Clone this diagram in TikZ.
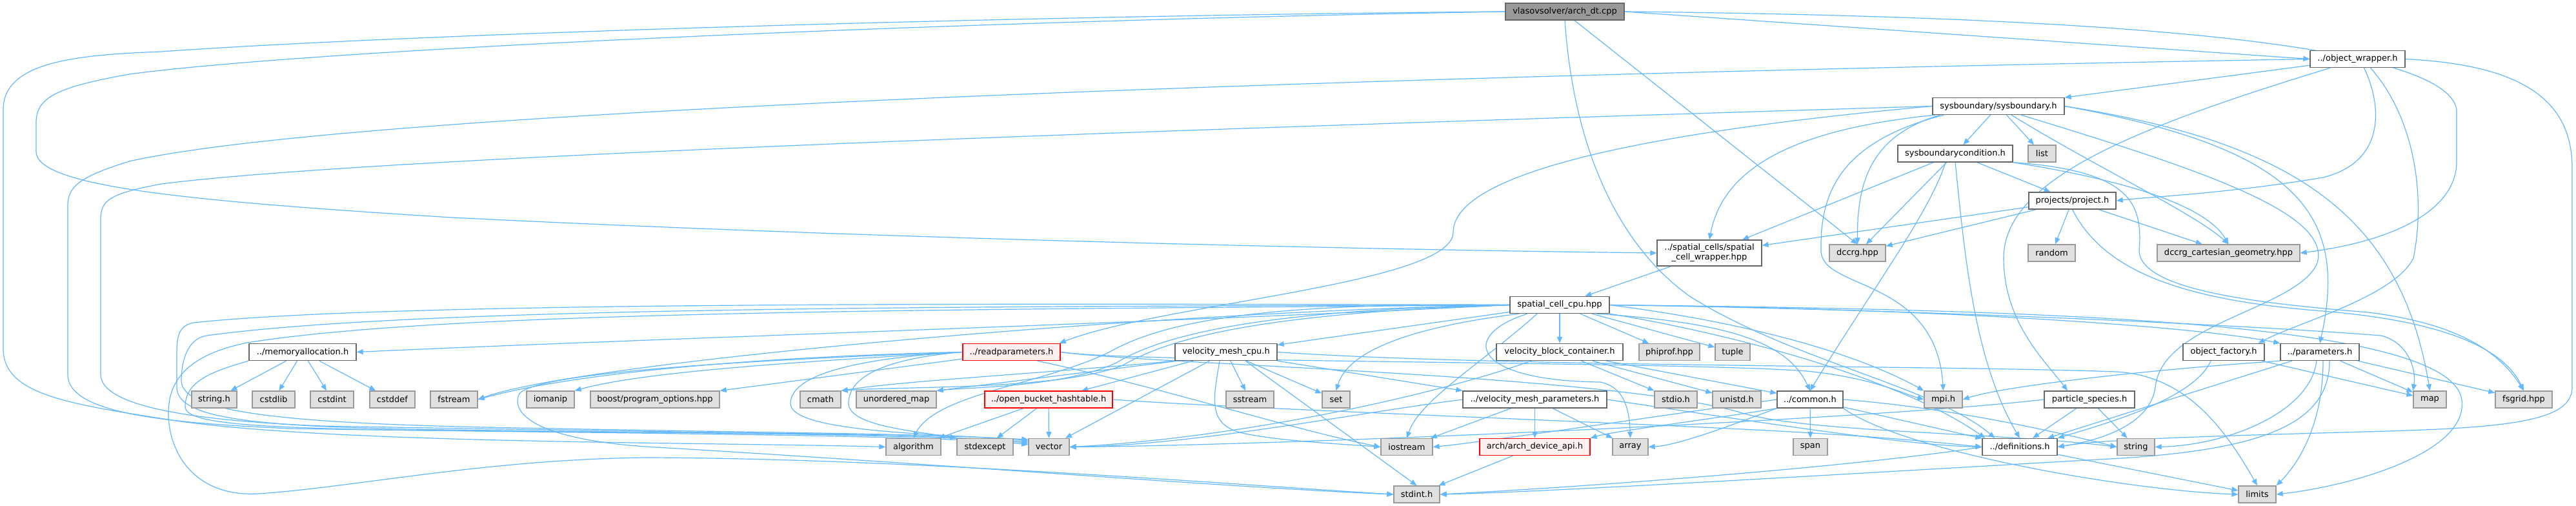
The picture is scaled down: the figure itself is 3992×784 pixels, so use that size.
\documentclass[tikz,border=0pt]{standalone}
\usepackage{fontspec}
\setmainfont{DejaVu Sans}
\usetikzlibrary{arrows.meta,calc,backgrounds}
\definecolor{edgec}{HTML}{63B8FF}
\definecolor{grayfill}{HTML}{E0E0E0}
\definecolor{grayborder}{HTML}{999999}
\definecolor{darkborder}{HTML}{666666}
\definecolor{redfill}{HTML}{FFF0F0}
\definecolor{redborder}{HTML}{FF0000}
\definecolor{rootfill}{HTML}{999999}
\begin{document}
\begin{tikzpicture}[x=1pt,y=-1pt,
  box/.style={rectangle,font=\fontsize{13}{15}\selectfont,inner sep=0pt,minimum height=26pt,line width=1.3pt},
  sysn/.style={box,draw=grayborder,fill=grayfill},
  usrn/.style={box,draw=darkborder,fill=white},
  redn/.style={box,draw=redborder,fill=redfill},
  rootn/.style={box,draw=darkborder,fill=rootfill},
  edg/.style={draw=edgec,line width=1.2pt,-{Triangle[length=10pt,width=8pt]}}]
\useasboundingbox (0,0) rectangle (3992,784);
% ---------- nodes ----------
\node[rootn,minimum width=184pt] (root) at (2425,18) {vlasovsolver/arch\_dt.cpp};
\node[usrn,minimum width=147pt] (ow) at (3653.5,91.5) {../object\_wrapper.h};
\node[usrn,minimum width=204pt] (sb) at (3097,164.5) {sysboundary/sysboundary.h};
\node[usrn,minimum width=178pt] (sbc) at (3030,238) {sysboundarycondition.h};
\node[sysn,minimum width=43pt] (list) at (3164.5,238) {list};
\node[usrn,minimum width=135pt] (proj) at (3211.5,311) {projects/project.h};
\node[usrn,minimum width=162pt,minimum height=40pt,align=center] (scw) at (2649,392) {../spatial\_cells/spatial\\\_cell\_wrapper.hpp};
\node[sysn,minimum width=87pt] (dccrg) at (2878.5,392) {dccrg.hpp};
\node[sysn,minimum width=73pt] (random) at (3179.5,392) {random};
\node[sysn,minimum width=221pt] (dcg) at (3453.5,392) {dccrg\_cartesian\_geometry.hpp};
\node[usrn,minimum width=154pt] (scc) at (2417,472.5) {spatial\_cell\_cpu.hpp};
% row 545.5
\node[usrn,minimum width=166pt] (mem) at (469,545.5) {../memoryallocation.h};
\node[redn,minimum width=151pt] (rp) at (1567.5,545.5) {../readparameters.h};
\node[usrn,minimum width=158pt] (vmc) at (1900,545.5) {velocity\_mesh\_cpu.h};
\node[usrn,minimum width=196pt] (vbc) at (2417,545.5) {velocity\_block\_container.h};
\node[sysn,minimum width=94pt] (phi) at (2587,545.5) {phiprof.hpp};
\node[sysn,minimum width=54pt] (tuple) at (2685,545.5) {tuple};
\node[usrn,minimum width=126pt] (of) at (3446,545.5) {object\_factory.h};
\node[usrn,minimum width=122pt] (par) at (3595,545.5) {../parameters.h};
% row 619
\node[sysn,minimum width=70pt] (stringh) at (332,619) {string.h};
\node[sysn,minimum width=66pt] (cstdlib) at (424,619) {cstdlib};
\node[sysn,minimum width=67pt] (cstdint) at (514.5,619) {cstdint};
\node[sysn,minimum width=70pt] (cstddef) at (608,619) {cstddef};
\node[sysn,minimum width=73pt] (fstream) at (703.5,619) {fstream};
\node[sysn,minimum width=74pt] (iomanip) at (853,619) {iomanip};
\node[sysn,minimum width=200pt] (boost) at (1015,619) {boost/program\_options.hpp};
\node[sysn,minimum width=63pt] (cmath) at (1271.5,619) {cmath};
\node[sysn,minimum width=124pt] (umap) at (1389,619) {unordered\_map};
\node[redn,minimum width=198pt] (obh) at (1625,619) {../open\_bucket\_hashtable.h};
\node[sysn,minimum width=74pt] (sstream) at (1937,619) {sstream};
\node[sysn,minimum width=43pt] (set) at (2070.5,619) {set};
\node[usrn,minimum width=223pt] (vmp) at (2378.5,619) {../velocity\_mesh\_parameters.h};
\node[sysn,minimum width=66pt] (stdio) at (2597,619) {stdio.h};
\node[sysn,minimum width=75pt] (unistd) at (2691.5,619) {unistd.h};
\node[usrn,minimum width=102pt] (common) at (2805,619) {../common.h};
\node[sysn,minimum width=59pt] (mpi) at (3011.5,619) {mpi.h};
\node[usrn,minimum width=140pt] (ps) at (3238,619) {particle\_species.h};
\node[sysn,minimum width=51pt] (map) at (3765.5,619) {map};
\node[sysn,minimum width=88pt] (fsgrid) at (3911,619) {fsgrid.hpp};
% row 692.5
\node[sysn,minimum width=85pt] (algorithm) at (1415.5,692.5) {algorithm};
\node[sysn,minimum width=87pt] (stdexcept) at (1526.5,692.5) {stdexcept};
\node[sysn,minimum width=63pt] (vector) at (1625.5,692.5) {vector};
\node[sysn,minimum width=80pt] (iostream) at (2180,692.5) {iostream};
\node[redn,minimum width=171pt] (arch) at (2378.5,692.5) {arch/arch\_device\_api.h};
\node[sysn,minimum width=55pt] (array) at (2526.5,692.5) {array};
\node[sysn,minimum width=53pt] (span) at (2805.5,692.5) {span};
\node[usrn,minimum width=116pt] (defs) at (3130,692.5) {../definitions.h};
\node[sysn,minimum width=58pt] (string) at (3310,692.5) {string};
% row 766
\node[sysn,minimum width=71pt] (stdint) at (2195.5,766) {stdint.h};
\node[sysn,minimum width=58pt] (limits) at (3498,766) {limits};
% ---------- edges ----------
\begin{scope}[on background layer]
\fill[white] (0,0) rectangle (3992,784);
% root
\draw[edg] (root.east) -- (ow.west);
\draw[edg] ($(root.south)+(15,0)$) -- (dccrg.north);
\draw[edg] (root.east) .. controls (3200,25) and (3790,60) .. (3807,170) -- (3807,250) .. controls (3807,330) and (3700,375) .. (dcg.east);
\draw[edg] (root.west) .. controls (1500,25) and (600,55) .. (250,80) .. controls (120,85) and (5,95) .. (5,170) -- (5,540) .. controls (5,610) and (100,625) .. (260,650) .. controls (500,688) and (1100,685) .. (algorithm.west);
\draw[edg] (root.west) .. controls (1500,32) and (500,75) .. (200,115) .. controls (90,135) and (56,150) .. (56,190) -- (56,235) .. controls (56,290) and (300,312) .. (700,337) .. controls (1400,372) and (2200,388) .. (scw.west);
\draw[edg] (root.south) .. controls (2440,250) and (2520,390) .. (2620,460) .. controls (2780,560) and (3000,600) .. ($(defs.north west)+(20,0)$);
% object_wrapper
\draw[edg] (ow) -- (sb);
\draw[edg] ($(ow.south west)+(32,0)$) .. controls (3300,200) and (3105,280) .. (3105,400) .. controls (3105,500) and (3170,560) .. ($(ps.north)+(-34,0)$);
\draw[edg] ($(ow.south)+(10,0)$) .. controls (3690,160) and (3700,250) .. (3600,275) .. controls (3450,300) and (3330,305) .. (proj.east);
\draw[edg] ($(ow.south)+(20,0)$) .. controls (3740,180) and (3760,300) .. (3740,400) .. controls (3710,460) and (3560,500) .. ($(of.north east)+(-10,0)$);
\draw[edg] (ow.east) .. controls (3900,100) and (3986,150) .. (3986,260) -- (3986,600) .. controls (3986,650) and (3900,662) .. (3700,668) .. controls (3450,675) and (3260,680) .. (defs.east);
\draw[edg] (ow.west) .. controls (2500,110) and (600,160) .. (200,250) .. controls (120,275) and (105,290) .. (105,320) -- (105,580) .. controls (105,640) and (250,655) .. (450,664) .. controls (900,672) and (1450,668) .. ($(vector.north west)+(0,4)$);
% sysboundary
\draw[edg] (sb) -- (sbc);
\draw[edg] (sb) -- (list);
\draw[edg] ($(sb.south west)+(5,0)$) .. controls (2780,200) and (2670,260) .. (scw.north);
\draw[edg] ($(sb.south west)+(12,0)$) .. controls (2900,210) and (2878,280) .. (dccrg.north);
\draw[edg] ($(sb.south west)+(18,0)$) .. controls (2850,220) and (2820,300) .. (2822,390) .. controls (2826,450) and (3000,430) .. (mpi.north);
\draw[edg] (sb.west) .. controls (2600,200) and (2252,260) .. (2252,360) .. controls (2252,440) and (1800,470) .. ($(rp.north east)+(-2,0)$);
\draw[edg] (sb.east) .. controls (3550,220) and (3720,330) .. (map.north);
\draw[edg] (sb.east) .. controls (3560,230) and (3640,330) .. (par.north);
\draw[edg] ($(sb.south)+(35,0)$) .. controls (3400,260) and (3620,330) .. (3590,410) .. controls (3555,480) and (3350,500) .. (3340,600) .. controls (3332,660) and (3250,683) .. (defs.east);
\draw[edg] ($(sb.south)+(20,0)$) .. controls (3250,260) and (3400,330) .. (dcg.north);
\draw[edg] (sb.west) .. controls (2000,195) and (600,240) .. (250,285) .. controls (170,300) and (156,310) .. (156,340) -- (156,580) .. controls (156,630) and (300,652) .. (500,660) .. controls (900,668) and (1450,672) .. ($(vector.north west)+(0,6)$);
% sysboundarycondition
\draw[edg] (sbc) -- (proj);
\draw[edg] (sbc.south east) .. controls (3300,280) and (3420,320) .. (dcg.north);
\draw[edg] (sbc.south east) .. controls (3310,265) and (3320,320) .. (3315,390) .. controls (3320,450) and (3500,470) .. (3670,484) .. controls (3800,500) and (3870,540) .. (fsgrid.north);
\draw[edg] (sbc) -- (dccrg);
\draw[edg] (sbc) -- (scw);
\draw[edg] (sbc.south) .. controls (3045,400) and (3060,560) .. (defs.north);
\draw[edg] ($(sbc.south)+(-15,0)$) .. controls (2990,330) and (2900,450) .. (common.north);
% project
\draw[edg] (proj) -- (scw);
\draw[edg] (proj) -- (dccrg);
\draw[edg] (proj) -- (random);
\draw[edg] (proj) -- (dcg);
\draw[edg] (proj.south) .. controls (3260,420) and (3380,465) .. (3600,482) .. controls (3790,498) and (3880,540) .. (fsgrid.north);
% spatial_cell_wrapper
\draw[edg] (scw) -- (scc);
% spatial_cell_cpu
\draw[edg] (scc) -- (vbc);
\draw[edg] (scc) -- (phi);
\draw[edg] (scc) -- (tuple);
\draw[edg] (scc) -- (vmc);
\draw[edg] ($(scc.south west)+(15,0)$) .. controls (2200,505) and (2090,540) .. (set.north);
\draw[edg] ($(scc.south)+(-35,0)$) .. controls (2300,560) and (2200,620) .. (iostream.north);
\draw[edg] ($(scc.south)+(-50,0)$) .. controls (2260,520) and (2280,590) .. (2480,592) .. controls (2520,600) and (2525,640) .. (array.north);
\draw[edg] ($(scc.south east)+(-20,0)$) .. controls (2680,500) and (2770,530) .. (common.north);
\draw[edg] (scc.east) .. controls (2750,505) and (2900,560) .. (mpi.north west);
\draw[edg] (scc.east) .. controls (3000,480) and (3500,505) .. (3690,520) .. controls (3730,530) and (3745,570) .. (map.north west);
\draw[edg] (scc.east) .. controls (3000,478) and (3400,505) .. (par.north west);
\draw[edg] (scc.south east) .. controls (2700,520) and (2950,590) .. ($(defs.north west)+(5,0)$);
\draw[edg] (scc.east) .. controls (3200,480) and (3800,500) .. (3815,620) .. controls (3825,700) and (3650,752) .. (limits.east);
\draw[edg] (scc.west) .. controls (1800,500) and (1000,525) .. (mem.east);
\draw[edg] (scc.west) .. controls (1950,468) and (1800,500) .. (1720,545) .. controls (1620,595) and (1450,610) .. (algorithm.north);
\draw[edg] (scc.west) .. controls (1950,480) and (1800,520) .. (1730,562) .. controls (1650,600) and (1500,600) .. (umap.north east);
\draw[edg] (scc.west) .. controls (1950,485) and (1810,525) .. (1740,566) .. controls (1640,605) and (1400,598) .. (cmath.north east);
\draw[edg] (scc.west) .. controls (1800,482) and (900,560) .. (fstream.east);
\draw[edg] (scc.west) .. controls (1500,470) and (600,468) .. (300,500) .. controls (272,505) and (274,530) .. (274,560) -- (274,600) .. controls (274,650) and (400,662) .. (700,666) .. controls (1100,672) and (1450,672) .. ($(vector.north west)+(0,8)$);
\draw[edg] (scc.west) .. controls (1500,475) and (650,475) .. (320,520) .. controls (290,525) and (281,560) .. (281,590) .. controls (281,640) and (450,655) .. (750,662) .. controls (1150,670) and (1440,672) .. (stdexcept.north west);
\draw[edg] (scc.west) .. controls (1500,480) and (700,480) .. (383,531) .. controls (290,550) and (261,590) .. (261,640) .. controls (261,700) and (300,770) .. (400,765) .. controls (550,755) and (750,712) .. (1000,709) .. controls (1400,710) and (1900,750) .. (stdint.west);
% memoryallocation
\draw[edg] (mem) -- (stringh);
\draw[edg] (mem) -- (cstdlib);
\draw[edg] (mem) -- (cstdint);
\draw[edg] (mem) -- (cstddef);
\draw[edg] (mem.south west) .. controls (330,575) and (287,590) .. (287,630) .. controls (287,655) and (380,662) .. (600,666) .. controls (1000,672) and (1450,674) .. ($(vector.north west)+(0,10)$);
% readparameters
\draw[edg] (rp.west) .. controls (1330,555) and (1225,580) .. (1225,625) .. controls (1225,665) and (1400,672) .. ($(vector.north west)+(0,2)$);
\draw[edg] (rp.west) .. controls (1380,555) and (1315,580) .. (1315,625) .. controls (1315,660) and (1420,668) .. (stdexcept.north west);
\draw[edg] (rp.west) .. controls (1100,560) and (830,580) .. (805,610) .. controls (790,640) and (830,680) .. (1000,692) .. controls (1400,715) and (1900,755) .. (stdint.west);
\draw[edg] ($(rp.south west)+(0,-3)$) -- (boost.north east);
\draw[edg] (rp.west) .. controls (1250,560) and (1000,575) .. (iomanip.north east);
\draw[edg] (rp.west) .. controls (1200,552) and (900,575) .. (fstream.east);
\draw[edg] ($(rp.south)+(40,0)$) .. controls (1800,600) and (2000,665) .. (iostream.west);
\draw[edg] (rp.east) .. controls (1750,562) and (2600,560) .. (2800,575) .. controls (2900,585) and (2950,610) .. (mpi.west);
\draw[edg] (rp.east) .. controls (1800,566) and (2500,580) .. (2700,640) .. controls (2800,670) and (3100,670) .. (string.west);
% velocity_mesh_cpu
\draw[edg] (vmc) -- (obh);
\draw[edg] (vmc) -- (vector);
\draw[edg] (vmc) -- (sstream);
\draw[edg] (vmc) -- (set);
\draw[edg] ($(vmc.south west)+(5,0)$) -- (umap.north east);
\draw[edg] (vmc.south west) .. controls (1600,580) and (1400,590) .. (cmath.north east);
\draw[edg] ($(vmc.south)+(-10,0)$) .. controls (1880,620) and (1870,660) .. (1930,672) .. controls (1990,684) and (2080,688) .. (iostream.west);
\draw[edg] ($(vmc.south)+(30,0)$) -- (stdint.north);
\draw[edg] (vmc.south east) -- (vmp.north west);
\draw[edg] (vmc.east) .. controls (2300,568) and (3000,566) .. (3280,576) .. controls (3380,582) and (3440,650) .. (limits.north);
% velocity_block_container
\draw[edg] (vbc) -- (stdio);
\draw[edg] (vbc) -- (unistd);
\draw[edg] (vbc) -- (common);
\draw[edg] ($(vbc.south west)+(55,0)$) .. controls (2200,620) and (1900,680) .. (vector.east);
% velocity_mesh_parameters
\draw[edg] (vmp) -- (iostream);
\draw[edg] (vmp) -- (arch);
\draw[edg] (vmp) -- (array);
\draw[edg] (vmp.west) .. controls (2100,640) and (1850,690) .. (vector.east);
\draw[edg] (vmp.east) .. controls (2700,650) and (2950,690) .. (defs.west);
% arch
\draw[edg] (arch) -- (stdint);
% common
\draw[edg] (common) -- (span);
\draw[edg] (common.south west) .. controls (2650,650) and (2500,668) .. (arch.north east);
\draw[edg] (common.west) .. controls (2600,640) and (2300,685) .. (iostream.east);
\draw[edg] (common) -- (defs);
\draw[edg] (common.south east) .. controls (2950,700) and (3300,760) .. (limits.west);
\draw[edg] (common.east) .. controls (3000,630) and (3150,660) .. (string.west);
\draw[edg] (common.south west) .. controls (2680,660) and (2600,690) .. (array.east);
% parameters
\draw[edg] (par) -- (map);
\draw[edg] (par) -- (fsgrid);
\draw[edg] (par.south west) .. controls (3300,575) and (3100,600) .. (mpi.east);
\draw[edg] (par) -- (defs);
\draw[edg] ($(par.south)+(-5,0)$) .. controls (3580,640) and (3450,690) .. (string.east);
\draw[edg] ($(par.south)+(5,0)$) .. controls (3600,660) and (3560,720) .. (limits.north east);
\draw[edg] ($(par.south)+(15,0)$) .. controls (3610,660) and (3500,700) .. (3250,712) .. controls (2800,738) and (2400,762) .. (stdint.east);
% object_factory
\draw[edg] (of) -- (map);
\draw[edg] ($(of.south)+(-20,0)$) .. controls (3400,620) and (3250,660) .. (defs.north east);
% particle_species
\draw[edg] (ps) -- (defs);
\draw[edg] (ps) -- (string);
\draw[edg] (ps.west) .. controls (2900,650) and (2000,690) .. (vector.east);
% definitions
\draw[edg] (defs) -- (limits);
\draw[edg] (defs.west) .. controls (2900,720) and (2500,752) .. (stdint.east);
% open_bucket_hashtable
\draw[edg] (obh) -- (algorithm);
\draw[edg] (obh) -- (stdexcept);
\draw[edg] (obh) -- (vector);
\draw[edg] (obh.east) .. controls (1900,632) and (2400,650) .. (2700,665) .. controls (2900,675) and (3000,685) .. (defs.west);
\end{scope}
\end{tikzpicture}
\end{document}
